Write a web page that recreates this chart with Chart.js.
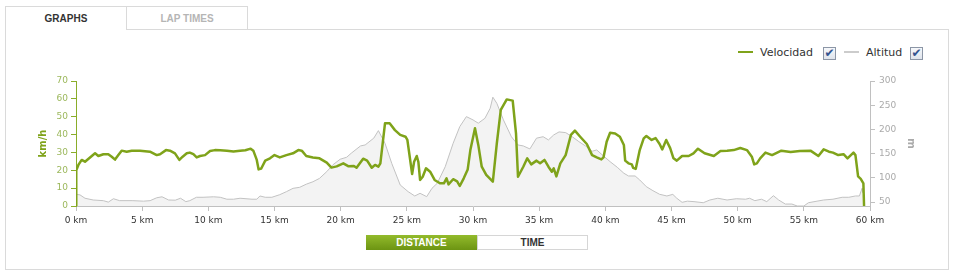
<!DOCTYPE html>
<html>
<head>
<meta charset="utf-8">
<script src="https://cdn.jsdelivr.net/npm/chart.js@4/dist/chart.umd.min.js"></script>
<style>
body{margin:0;background:#fff;width:957px;height:278px;overflow:hidden;position:relative;font-family:"DejaVu Sans",sans-serif;}
.tab{position:absolute;top:6px;width:120px;height:22px;border:1px solid #dadada;background:#fff;
  font:bold 10px "Liberation Sans",Arial,sans-serif;text-align:center;line-height:24px;}
#tabGraphs{left:5px;border-bottom:none;height:23px;color:#333;z-index:2;}
#tabLaps{left:126px;color:#b5b5b5;z-index:1;}
#panel{position:absolute;left:5px;top:29px;width:942px;height:239px;border:1px solid #dadada;}
.leg{position:absolute;top:46px;font-size:11px;color:#333;line-height:14px;}
.leg i{display:inline-block;width:15px;height:2px;vertical-align:middle;margin-right:7px;position:relative;top:-1px;}
.chk{position:absolute;top:47px;width:11px;height:11px;border:1px solid #8c96a6;background:linear-gradient(#f6f8fb,#dfe4ec);
  color:#34548f;font-size:12px;line-height:11px;text-align:center;font-weight:bold;overflow:hidden;}
.btn{position:absolute;top:235px;height:15px;width:111px;font:bold 10px "Liberation Sans",Arial,sans-serif;text-align:center;line-height:15px;}
#bDist{left:366px;color:#fff;background:linear-gradient(#93bb2c,#6c9412);border:0;}
#bTime{left:477px;color:#333;background:#fff;border:1px solid #d6d6d6;height:13px;line-height:13px;width:109px;}
#c{position:absolute;left:0;top:70px;}
</style>
</head>
<body>
<div id="panel"></div>
<div class="tab" id="tabGraphs">GRAPHS</div>
<div class="tab" id="tabLaps">LAP TIMES</div>

<div class="leg" style="left:738px"><i style="background:#7fa31a"></i>Velocidad</div>
<div class="chk" style="left:823px">✔</div>
<div class="leg" style="left:844px"><i style="background:#cccccc"></i>Altitud</div>
<div class="chk" style="left:910px">✔</div>

<canvas id="c" width="957" height="170"></canvas>

<div class="btn" id="bDist">DISTANCE</div>
<div class="btn" id="bTime">TIME</div>

<script>
// velocidad (km/h) vs distance (km)
const speedKm = [0,0.02,0.18,0.43,0.68,1.06,1.44,1.69,2.07,2.44,2.7,2.95,3.2,3.45,3.83,4.21,4.84,5.59,6.1,6.35,
  6.8,7.1,7.48,7.81,8.06,8.37,8.6,8.87,9.12,9.37,9.75,10.13,10.5,10.9,11.4,11.9,12.4,12.8,13.2,13.4,
  13.66,13.8,14.0,14.3,14.66,15.0,15.4,15.9,16.4,16.8,17.06,17.4,17.9,18.4,18.95,19.3,19.7,20.2,20.6,21.0,
  21.2,21.7,22.0,22.35,22.6,22.85,23.0,23.35,23.7,24.1,24.5,24.9,25.04,25.4,25.55,25.75,25.87,26.0,26.2,26.45,
  26.76,27.1,27.5,27.8,28.0,28.15,28.5,28.8,29.0,29.3,29.6,29.8,30.15,30.4,30.66,31.0,31.5,31.8,32.1,32.55,
  33.0,33.25,33.4,33.8,34.1,34.4,34.8,35.07,35.4,35.7,35.96,36.1,36.3,36.6,37.0,37.4,37.7,38.1,38.6,39.0,
  39.35,39.7,39.86,40.1,40.36,40.74,41.1,41.4,41.5,41.75,42.0,42.1,42.3,42.6,42.9,43.1,43.5,43.8,44.1,44.3,
  44.6,44.9,45.15,45.4,45.8,46.3,46.66,47.0,47.5,48.2,48.7,49.2,49.7,50.2,50.7,51.07,51.25,51.45,51.7,52.1,
  52.6,53.3,54.0,54.7,55.5,56.1,56.5,56.9,57.2,57.6,58.0,58.3,58.75,58.9,59.1,59.3,59.5,59.55];
const speedVals = [0,20,23,25.8,24.8,27.2,29.5,28,29,29,27.6,26,28.5,31,30.4,30.9,31,30.4,28.5,29,
  31.3,31,29.5,25.8,27.6,29.5,29.9,29,27.2,28,28.5,30.8,31.3,31.2,31,30.5,31,31.2,32.1,31,
  25.8,20.5,21,25.4,26.7,28.5,27.2,28.5,29.5,31.3,31,28,27.2,26.7,24.3,21.5,22.2,23.9,22.2,22.4,
  21.4,26.5,25.4,21.4,23,22,23.9,46.3,46.3,42.5,39.8,38.8,37,17.9,24.8,28,24.8,14.6,16.4,21.1,
  19.2,14.6,12.7,12.7,15.5,12.1,15,13.8,11.2,15.5,20.5,31.3,43.5,34.2,22,17.4,13.6,35.1,53.8,59.7,
  59,40.7,16.4,22,26.7,23.3,25.4,23.9,25.8,22,19.2,21.1,16.6,23.9,28.5,39.8,42.2,38.8,34.7,28.5,
  27.2,26.1,27.2,36,41,40.6,38.8,34.2,25.4,23.9,23.3,21.4,20.8,31.3,37.9,39.2,37,38,34.7,31.7,
  37,32.4,26.7,25.4,28,28,29.5,32.1,29.5,28,30.8,31,31.3,32.5,31.3,27.6,23.3,23.9,26.7,29.9,
  28.5,31,30.2,30.8,31,28,31.7,30.4,29.9,28.5,29,26.7,29.9,28.5,16.6,15.2,12.7,0];

// altitud (m) vs distance (km)
const altKm = [0,0.3,0.68,1.3,2.07,2.44,2.83,3.3,4.3,5.1,5.6,6.1,6.5,7.0,7.5,7.9,8.3,8.6,9.1,9.6,
  10.4,10.9,11.4,11.9,12.4,13.3,13.66,13.9,14.3,14.8,15.4,15.9,16.4,16.9,17.4,17.9,18.4,18.95,19.4,19.96,
  20.45,20.8,21.5,21.85,22.5,22.85,23.35,23.86,24.5,25.1,25.6,26.0,26.5,26.9,27.3,27.9,28.5,29.0,29.5,30.0,
  30.4,30.9,31.3,31.5,31.8,32.3,32.9,33.4,33.8,34.3,34.8,35.3,35.7,36.1,36.5,37.0,37.5,38.0,38.5,39.0,
  39.35,39.86,40.36,40.9,41.4,41.75,42.25,42.6,43.1,43.6,44.1,44.65,45.1,45.4,45.8,46.2,46.7,47.4,47.9,48.5,
  49.2,49.9,50.6,50.9,51.3,51.8,52.2,52.7,53.1,53.6,54.1,54.5,55.0,55.35,56.0,56.5,57.2,57.9,58.4,58.9,
  59.2,59.4,59.45];
const altVals = [66,65,58,54.4,53,50,57,53,53,52,53,59,61,54.4,54,58,51,53,60,60,
  61,60,56,56,58,56,56,62.7,60,60,65.4,71.6,78.5,80.6,87,92,99,113,126.7,138.5,
  142.6,151,166,168,182,197.6,171.5,130,85.4,71.6,62.7,68.2,61.3,78.5,89,123,171.5,205.8,226.5,219.7,
  212.9,223,243.9,266.6,254,219.7,185,168,166,159.8,182,185,178.4,188.7,194.9,193.5,185,174.9,166,155,
  157.7,145.3,133.5,122,109.6,104,104,95.7,81.9,73.6,66.2,62.7,66,58,49.6,52,51,48.8,54.4,58,
  54.4,57,56,58,53,56,51,63.3,54.4,46,46,42,42,48.8,52,54.4,56,60,60,62.7,
  62.7,78.5,70];

const altTicks = [50,100,150,200,250,300];

const pts = (xs, ys) => xs.map((x, i) => ({x: x, y: ys[i]}));
const tickFont = {family: "DejaVu Sans", size: 9};

new Chart(document.getElementById("c"), {
  type: "line",
  data: {
    datasets: [{
      label: "Velocidad",
      data: pts(speedKm, speedVals),
      yAxisID: "y",
      borderColor: "#7fa31a",
      borderWidth: 2.5,
      pointRadius: 0,
      fill: false,
      order: 0
    }, {
      label: "Altitud",
      data: pts(altKm, altVals),
      yAxisID: "y2",
      borderColor: "#c2c2c2",
      backgroundColor: "#f3f3f3",
      borderWidth: 1,
      pointRadius: 0,
      fill: "start",
      order: 1
    }]
  },
  options: {
    responsive: false,
    animation: false,
    devicePixelRatio: 1,
    layout: {padding: {left: 33, right: 36, top: 11, bottom: 0}},
    plugins: {legend: {display: false}, tooltip: {enabled: false}},
    elements: {line: {tension: 0, borderJoinStyle: "round"}},
    scales: {
      x: {
        type: "linear", min: 0, max: 60,
        ticks: {stepSize: 5, color: "#333", font: tickFont, padding: 4, maxRotation: 0,
          callback: v => v + " km"},
        grid: {drawOnChartArea: false, color: "#c0c0c0", tickLength: 5},
        border: {color: "#c0c0c0"},
        afterFit: s => { s.height = 34; }
      },
      y: {
        position: "left", min: 0, max: 70,
        ticks: {stepSize: 10, color: "#9cb85c", font: tickFont, padding: 3},
        grid: {drawOnChartArea: false, color: "#8aad2a", tickLength: 5},
        border: {color: "#8aad2a"},
        title: {display: true, text: "km/h", color: "#7fa31a", font: {family: "DejaVu Sans", size: 10, weight: "bold"}},
        afterFit: s => { s.width = 43; }
      },
      y2: {
        position: "right", min: 42, max: 300,
        afterBuildTicks: s => { s.ticks = altTicks.map(v => ({value: v})); },
        ticks: {color: "#aaaaaa", font: tickFont, padding: 4},
        grid: {drawOnChartArea: false, color: "#c0c0c0", tickLength: 5},
        border: {color: "#c0c0c0"},
        title: {display: true, text: "m", color: "#aaa", font: {family: "DejaVu Sans", size: 10, weight: "bold"}},
        afterFit: s => { s.width = 51; }
      }
    }
  }
});
</script>
</body>
</html>
